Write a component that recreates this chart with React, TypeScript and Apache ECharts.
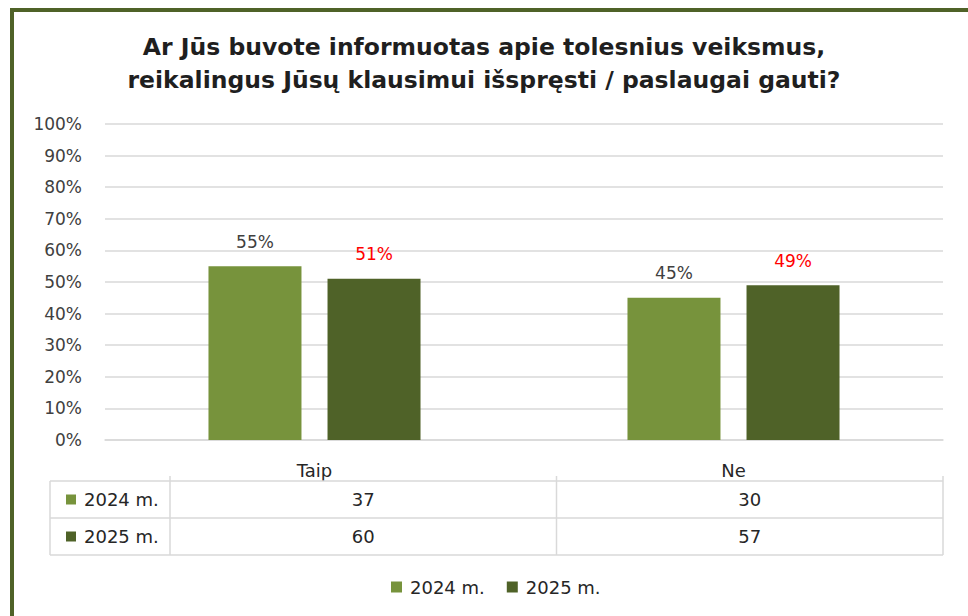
import React, { useEffect, useRef } from "react";
import * as echarts from "echarts";

const titleText = "Ar Jūs buvote informuotas apie tolesnius veiksmus,\nreikalingus Jūsų klausimui išspręsti / paslaugai gauti?";
const categories = ["Taip", "Ne"];
const seriesNames = ["2024 m.", "2025 m."];
const pct2024 = [55, 45];
const pct2025 = [51, 49];
const counts2024 = [37, 30];
const counts2025 = [60, 57];
const yTicks = [0, 10, 20, 30, 40, 50, 60, 70, 80, 90, 100];

const C_LIGHT = "#77933c";
const C_DARK = "#4f6228";
const FONT = "DejaVu Sans";

export default function App() {
  const ref = useRef<HTMLDivElement>(null);
  useEffect(() => {
    if (!ref.current) return;
    const chart = echarts.init(ref.current, null, { renderer: "svg" });

    // data table geometry
    const tLeft = 50;
    const tKey = 170;
    const tRight = 943;
    const tTop = 481;
    const rowH = 37;
    const colW = (tRight - tKey) / categories.length;
    const lineStyle = { stroke: "#d9d9d9", lineWidth: 1.5 };
    const tableRows = [
      { name: seriesNames[0], color: C_LIGHT, vals: counts2024 },
      { name: seriesNames[1], color: C_DARK, vals: counts2025 },
    ];
    const tableEls: any[] = [];
    tableEls.push({
      type: "rect",
      shape: { x: tLeft, y: tTop, width: tRight - tLeft, height: rowH * 2 },
      style: { fill: "#ffffff" },
      z: 100,
    });
    for (let r = 0; r <= tableRows.length; r++) {
      tableEls.push({
        type: "line",
        shape: { x1: tLeft, y1: tTop + r * rowH, x2: tRight, y2: tTop + r * rowH },
        style: lineStyle,
        z: 101,
      });
    }
    tableEls.push({
      type: "line",
      shape: { x1: tLeft, y1: tTop, x2: tLeft, y2: tTop + rowH * 2 },
      style: lineStyle,
      z: 101,
    });
    for (let c = 0; c <= categories.length; c++) {
      const x = tKey + c * colW;
      tableEls.push({
        type: "line",
        shape: { x1: x, y1: tTop - 5, x2: x, y2: tTop + rowH * 2 },
        style: lineStyle,
        z: 101,
      });
    }
    tableRows.forEach((row, r) => {
      const cy = tTop + r * rowH + rowH / 2;
      tableEls.push({
        type: "rect",
        shape: { x: 66, y: cy - 5, width: 10, height: 10 },
        style: { fill: row.color },
        z: 102,
      });
      tableEls.push({
        type: "text",
        x: 84,
        y: cy,
        style: {
          text: row.name,
          font: `18px '${FONT}'`,
          fill: "#262626",
          textVerticalAlign: "middle",
          textAlign: "left",
        },
        z: 102,
      });
      row.vals.forEach((v, c) => {
        tableEls.push({
          type: "text",
          x: tKey + c * colW + colW / 2,
          y: cy,
          style: {
            text: String(v),
            font: `18px '${FONT}'`,
            fill: "#262626",
            textVerticalAlign: "middle",
            textAlign: "center",
          },
          z: 102,
        });
      });
    });

    chart.setOption({
      animation: false,
      backgroundColor: "#ffffff",
      title: {
        text: titleText,
        left: "center",
        top: 25,
        textStyle: {
          fontFamily: FONT,
          fontSize: 23.5,
          fontWeight: "bold",
          color: "#1f1f1f",
          lineHeight: 33,
        },
      },
      legend: {
        data: seriesNames,
        left: 386,
        top: 573,
        icon: "rect",
        itemWidth: 11,
        itemHeight: 11,
        itemGap: 22,
        textStyle: { fontFamily: FONT, fontSize: 18, color: "#262626", padding: [0, 0, 0, 3] },
      },
      grid: { left: 105, right: 25, top: 124, bottom: 176, containLabel: false },
      xAxis: {
        type: "category",
        data: categories,
        axisLine: { show: true, lineStyle: { color: "#d9d9d9", width: 1.5 } },
        axisTick: { show: false },
        axisLabel: { fontFamily: FONT, fontSize: 18, color: "#262626", margin: 21 },
      },
      yAxis: {
        type: "value",
        min: yTicks[0],
        max: yTicks[yTicks.length - 1],
        interval: 10,
        axisLine: { show: false },
        axisTick: { show: false },
        splitLine: { lineStyle: { color: "#d9d9d9", width: 1.5 } },
        axisLabel: {
          fontFamily: FONT,
          fontSize: 17,
          color: "#404040",
          margin: 23,
          formatter: (v: number) => `${v}%`,
        },
      },
      series: [
        {
          name: seriesNames[0],
          type: "bar",
          data: pct2024,
          barWidth: 93,
          barGap: "28%",
          itemStyle: { color: C_LIGHT },
          label: {
            show: true,
            position: "top",
            distance: 16,
            formatter: "{c}%",
            fontFamily: FONT,
            fontSize: 17,
            color: "#404040",
          },
        },
        {
          name: seriesNames[1],
          type: "bar",
          data: pct2025,
          barWidth: 93,
          barGap: "28%",
          itemStyle: { color: C_DARK },
          label: {
            show: true,
            position: "top",
            distance: 16,
            formatter: "{c}%",
            fontFamily: FONT,
            fontSize: 17,
            color: "#ff0000",
          },
        },
      ],
      graphic: [
        {
          type: "rect",
          shape: { x: 12, y: 10, width: 2000, height: 2000 },
          style: { fill: "none", stroke: C_DARK, lineWidth: 4 },
          z: 200,
        },
        ...tableEls,
      ],
    });
    return () => chart.dispose();
  }, []);
  return (
    <div
      ref={ref}
      style={{ position: "absolute", left: 0, top: 0, width: 968, height: 616 }}
    />
  );
}
